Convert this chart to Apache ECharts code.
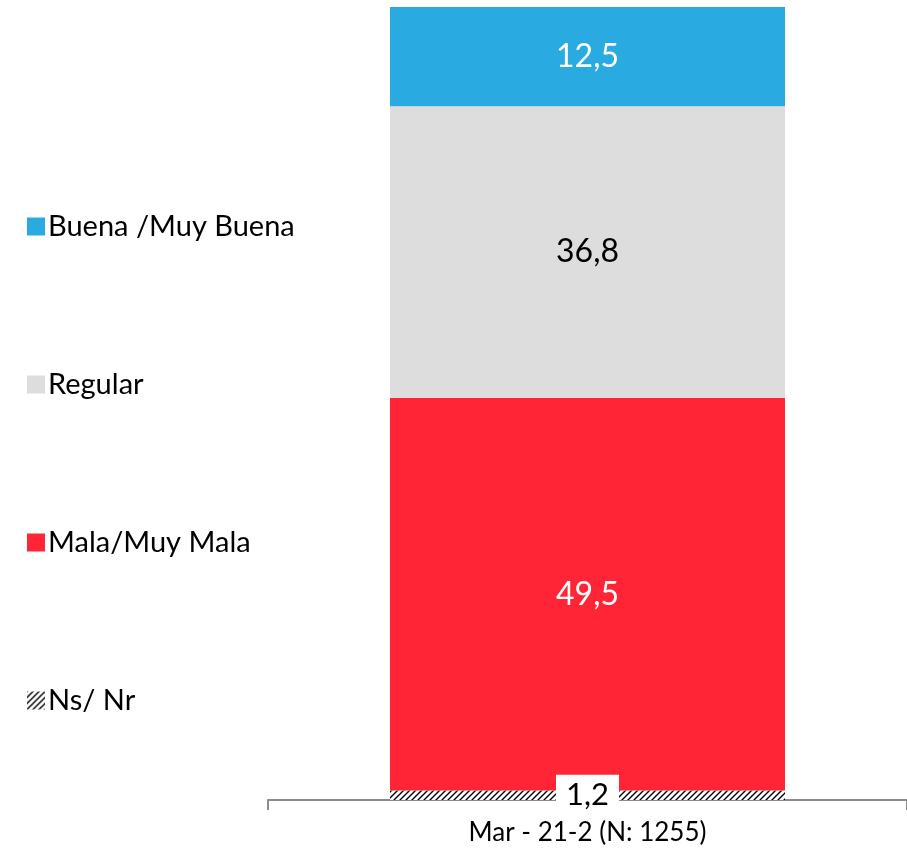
<!DOCTYPE html>
<html>
<head>
<meta charset="utf-8">
<script src="https://cdn.jsdelivr.net/npm/echarts@6/dist/echarts.min.js"></script>
<style>
  html, body { margin: 0; padding: 0; background: #fff; }
  #chart { width: 907px; height: 854px; }
</style>
</head>
<body>
<div id="chart"></div>
<script>
// datos
const categories = ["Mar - 21-2 (N: 1255)"];
const seriesNames = ["Buena /Muy Buena", "Regular", "Mala/Muy Mala", "Ns/ Nr"];
const buena = [12.5];
const regular = [36.8];
const mala = [49.5];
const nsnr = [1.2];

// trama rayada para Ns/Nr
function hatch() {
  const c = document.createElement("canvas");
  c.width = 6;
  c.height = 6;
  const ctx = c.getContext("2d");
  ctx.fillStyle = "#fff";
  ctx.fillRect(0, 0, 6, 6);
  ctx.strokeStyle = "#000";
  ctx.lineWidth = 1.4;
  ctx.beginPath();
  ctx.moveTo(0, 6); ctx.lineTo(6, 0);
  ctx.moveTo(-3, 3); ctx.lineTo(3, -3);
  ctx.moveTo(3, 9); ctx.lineTo(9, 3);
  ctx.stroke();
  return { image: c, repeat: "repeat" };
}

const font = "Lato, 'Open Sans', sans-serif";
let myChart = echarts.init(document.getElementById("chart"));

function barSerie(name, data, color, labelColor, extraLabel) {
  return {
    name: name,
    type: "bar",
    stack: "total",
    barWidth: 395,
    data: data,
    itemStyle: { color: color },
    label: Object.assign({
      show: true,
      position: "inside",
      color: labelColor,
      fontSize: 32,
      fontFamily: font,
      formatter: p => String(p.value).replace(".", ",")
    }, extraLabel || {})
  };
}

const option = {
  animation: false,
  legend: {
    orient: "vertical",
    left: 22,
    top: 207,
    itemWidth: 18,
    itemHeight: 18,
    itemGap: 129,
    icon: "rect",
    textStyle: { fontSize: 29, fontFamily: font, color: "#000", padding: [0, 0, 0, -2] },
    data: seriesNames.slice()
  },
  grid: { left: 268, width: 649, top: 7, bottom: 54, containLabel: false },
  xAxis: {
    type: "category",
    data: categories,
    axisLine: { lineStyle: { color: "#8c8c8c", width: 2 } },
    axisTick: { show: true, length: 10, lineStyle: { color: "#8c8c8c", width: 2 } },
    axisLabel: { fontSize: 26, fontFamily: font, color: "#000", margin: 20 }
  },
  yAxis: {
    type: "value",
    min: 0,
    max: 100,
    show: false,
    splitLine: { show: false }
  },
  series: [
    barSerie(seriesNames[3], nsnr, hatch(), "#000", {
      backgroundColor: "#fff",
      padding: [6, 10, 4, 10],
      fontSize: 31
    }),
    barSerie(seriesNames[2], mala, "#FF2536", "#fff"),
    barSerie(seriesNames[1], regular, "#DDDDDD", "#000"),
    barSerie(seriesNames[0], buena, "#29ABE2", "#fff")
  ]
};

myChart.setOption(option);
</script>
</body>
</html>
